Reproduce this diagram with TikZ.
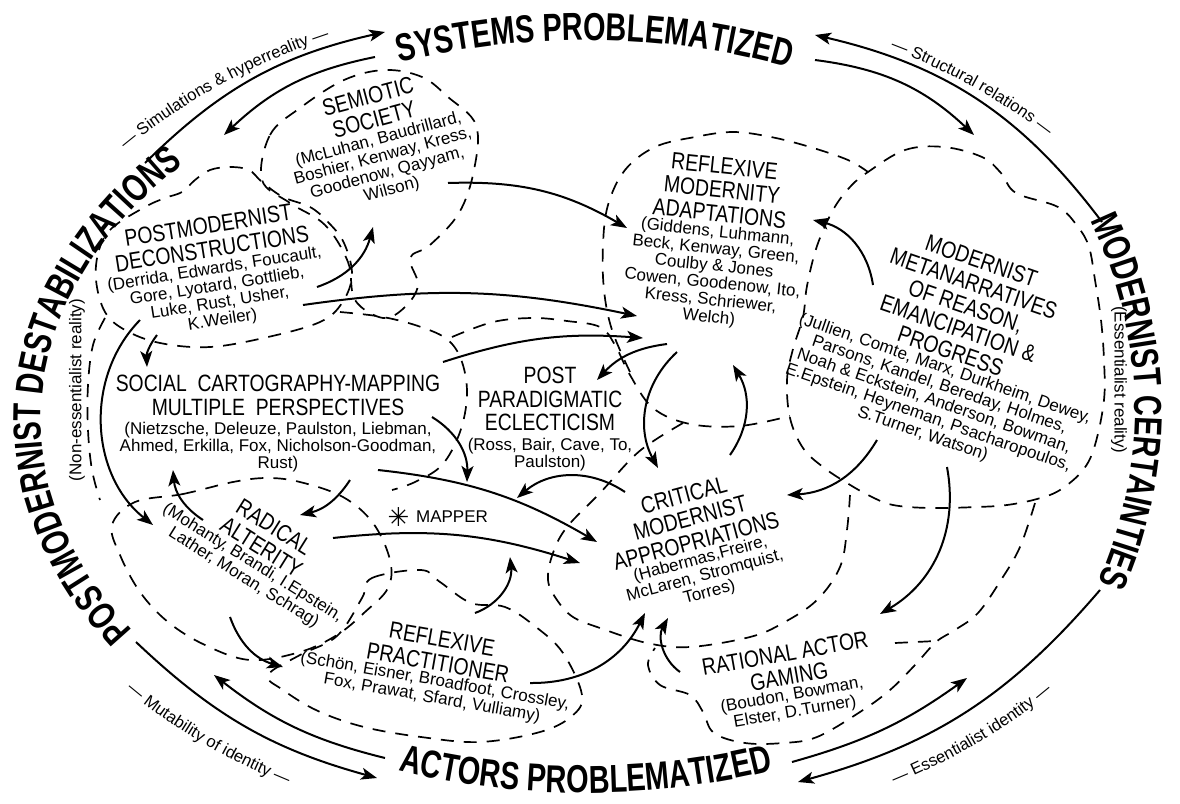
\documentclass[tikz,border=0pt]{standalone}
\usepackage{fontspec}
\setmainfont{Liberation Sans}
\newfontfamily\narrowsans[FakeStretch=0.82]{Liberation Sans}
\newfontfamily\axissans[FakeStretch=0.74]{Liberation Sans}
\newfontfamily\symbolsans{DejaVu Sans}
\usetikzlibrary{arrows.meta,positioning,decorations.text}

\newcommand\regionfont{\narrowsans\fontsize{11.8}{11.9}\selectfont}
\newcommand\namesfont{\fontsize{8.5}{8.6}\selectfont}
\newcommand\axisfont{\axissans\bfseries\fontsize{19.5}{19.5}\selectfont}
\newcommand\relfont{\fontsize{8.3}{9}\selectfont}

\tikzset{
  region/.style={font=\regionfont, align=center, inner sep=0pt},
  names/.style={font=\namesfont, align=center, inner sep=0pt},
  blob/.style={dash pattern=on 6.5pt off 5pt, line width=0.85pt},
  link/.style={-{Stealth[length=8pt,width=6pt,inset=2pt]}, line width=1pt},
  axistext/.style={decorate, decoration={text along path, text align=center, text={|\axisfont|#1}}},
  reltext/.style={decorate, decoration={text along path, text align=center, text={|\relfont|#1}}},
}

\begin{document}
\begin{tikzpicture}[x=0.5pt, y=-0.5pt]
\useasboundingbox (0,0) rectangle (1180,804);

% outer headings along the ring
\path[axistext={SYSTEMS PROBLEMATIZED}] plot[domain=236:306, samples=61, variable=\t] ({586+545*cos(\t)}, {420+380*sin(\t)});
\path[axistext={ACTORS PROBLEMATIZED}] plot[domain=55:125, samples=61, variable=\t] ({586-545*cos(\t)}, {420+373*sin(\t)});
\path[axistext={POSTMODERNIST DESTABILIZATIONS}] plot[domain=132:236, samples=81, variable=\t] ({586+545*cos(\t)}, {420+380*sin(\t)});
\path[axistext={MODERNIST CERTAINTIES}] plot[domain=-50:48, samples=81, variable=\t] ({586+549*cos(\t)}, {410+480*sin(\t)});

\path[reltext={— Simulations {\&} hyperreality —}] plot[domain=205:256, samples=41, variable=\t] ({595+608*cos(\t)}, {420+425*sin(\t)});
\path[reltext={— Structural relations —}] plot[domain=285:335, samples=41, variable=\t] ({595+608*cos(\t)}, {420+425*sin(\t)});
\path[reltext={— Mutability of identity —}] plot[domain=24:73, samples=41, variable=\t] ({590-603*cos(\t)}, {420+422*sin(\t)});
\path[reltext={— Essentialist identity —}] plot[domain=107:156, samples=41, variable=\t] ({590-603*cos(\t)}, {420+422*sin(\t)});

\node[names, rotate=90] (nonessential) at (77,390) {(Non-essentialist reality)};
\node[names, rotate=-90] (essential) at (1119,380) {(Essentialist reality)};

% dashed outlines of the domains
\draw[blob] plot[smooth cycle, tension=0.6] coordinates {(262,180) (270,135) (300,108) (344,80) (385,70) (422,77) (448,97) (476,125) (474,170) (459,213) (430,245) (410,258) (418,285) (405,307) (383,318) (355,300) (348,262) (325,225) (290,203)};
\draw[blob] plot[smooth cycle, tension=0.6] coordinates {(96,280) (99,250) (112,228) (145,207) (165,198) (182,192) (195,180) (210,170) (230,167) (249,170) (262,182) (283,197) (310,207) (328,222) (344,243) (352,275) (342,303) (320,322) (268,337) (210,347) (160,343) (125,330) (105,312)};
\draw[blob] plot[smooth, tension=0.6] coordinates {(105,318) (93,345) (88,385) (88,430) (92,470) (100,500)};
\draw[blob] plot[smooth, tension=0.6] coordinates {(340,312) (383,317) (421,327) (448,340) (462,362) (467,395) (460,432) (442,465) (415,482) (392,490)};
\draw[blob] plot[smooth, tension=0.6] coordinates {(452,337) (493,322) (533,318) (567,321) (600,327) (615,345) (630,375) (653,408) (690,424) (740,426) (790,416)};
\draw[blob] plot[smooth, tension=0.6] coordinates {(630,372) (612,330) (604,290) (603,245) (608,205) (625,170) (655,147) (695,137) (733,132) (771,137) (810,147) (848,160) (868,172)};
\draw[blob] plot[smooth cycle, tension=0.6] coordinates {(868,172) (905,150) (944,147) (982,157) (1001,173) (1016,193) (1058,207) (1078,227) (1089,247) (1095,280) (1101,320) (1104,360) (1104,400) (1095,445) (1083,470) (1060,490) (1037,499) (1007,505) (977,507) (930,508) (893,505) (870,496) (847,483) (823,467) (803,448) (790,418) (787,380) (793,349) (803,317) (807,286) (817,246) (833,210) (850,187)};
\draw[blob] plot[smooth, tension=0.6] coordinates {(683,423) (655,440) (633,457) (600,493) (567,527) (553,553) (548,580) (557,600) (573,617) (600,628) (647,643) (690,647) (750,637) (783,623) (817,600) (840,567) (847,530) (850,495)};
\draw[blob] plot[smooth, tension=0.6] coordinates {(1035,503) (1020,547) (1001,580) (978,613) (955,630) (936,642) (915,665) (890,690) (860,712) (817,737) (783,743) (745,743) (714,733) (703,712) (690,695) (660,685) (648,665) (655,648)};
\draw[blob] (895,643) -- (936,641);
\draw[blob] plot[smooth cycle, tension=0.6] coordinates {(135,502) (183,494) (233,482) (267,478) (300,482) (343,497) (373,523) (390,560) (388,588) (365,612) (337,635) (300,652) (250,660) (205,645) (168,622) (140,592) (120,555) (112,525)};
\draw[blob] plot[smooth cycle, tension=0.6] coordinates {(362,598) (372,578) (421,570) (440,582) (471,603) (505,607) (536,627) (563,653) (582,695) (572,716) (540,732) (480,742) (421,737) (364,727) (318,711) (283,690) (268,675) (300,655) (337,636)};

% domains
\node[region, rotate=15] (semT) at (371,108) {SEMIOTIC\\SOCIETY};
\node[names, rotate=15, below=2pt of semT] (semN) {(McLuhan, Baudrillard,\\Boshier, Kenway, Kress,\\Goodenow, Qayyam,\\Wilson)};

\node[region, rotate=9] (pmdT) at (210,237) {POSTMODERNIST\\DECONSTRUCTIONS};
\node[names, rotate=9, below=2pt of pmdT] (pmdN) {(Derrida, Edwards, Foucault,\\Gore, Lyotard, Gottlieb,\\Luke, Rust, Usher,\\K.Weiler)};

\node[region] (scmT) at (278,395) {SOCIAL\ \ CARTOGRAPHY-MAPPING\\MULTIPLE\ \ PERSPECTIVES};
\node[names, below=3pt of scmT] (scmN) {(Nietzsche, Deleuze, Paulston, Liebman,\\Ahmed, Erkilla, Fox, Nicholson-Goodman,\\Rust)};

\node[region] (ppeT) at (550,399) {POST\\PARADIGMATIC\\ECLECTICISM};
\node[names, below=3pt of ppeT] (ppeN) {(Ross, Bair, Cave, To,\\Paulston)};

\node[region, rotate=-6] (rmaT) at (722,190) {REFLEXIVE\\MODERNITY\\ADAPTATIONS};
\node[names, rotate=-6, below=1pt of rmaT] (rmaN) {(Giddens, Luhmann,\\Beck, Kenway, Green,\\Coulby \& Jones\\Cowen, Goodenow, Ito,\\Kress, Schriewer,\\Welch)};

\node[region, rotate=-19] (mmnT) at (966,306) {MODERNIST\\METANARRATIVES\\OF REASON,\\EMANCIPATION \&\\PROGRESS};
\node[names, rotate=-19, below=1pt of mmnT] (mmnN) {(Jullien, Comte, Marx, Durkheim, Dewey,\\Parsons, Kandel, Bereday, Holmes,\\Noah \& Eckstein, Anderson, Bowman,\\E.Epstein, Heyneman, Psacharopoulos,\\S.Turner, Watson)};

\node[region, rotate=-32] (raT) at (268,537) {RADICAL\\ALTERITY};
\node[names, rotate=-32, below=1pt of raT] (raN) {(Mohanty, Brandi, I.Epstein,\\Lather, Moran, Schrag)};

\node[region, rotate=15] (cmaT) at (690,518) {CRITICAL\\MODERNIST\\APPROPRIATIONS};
\node[names, rotate=15, below=1pt of cmaT] (cmaN) {(Habermas,Freire,\\McLaren, Stromquist,\\Torres)};

\node[region, rotate=-10] (rpT) at (440,651) {REFLEXIVE\\PRACTITIONER};
\node[names, rotate=-10, below=1pt of rpT] (rpN) {(Schön, Eisner, Broadfoot, Crossley,\\Fox, Prawat, Sfard, Vulliamy)};

\node[region, rotate=10] (ragT) at (787,665) {RATIONAL ACTOR\\GAMING};
\node[names, rotate=10, below=1pt of ragT] (ragN) {(Boudon, Bowman,\\Elster, D.Turner)};

\node[font=\namesfont, inner sep=0pt] (mapper) at (452,517) {MAPPER};
\node[font=\symbolsans\fontsize{13}{13}\selectfont, inner sep=0pt, left=3pt of mapper] (mapperStar) {✳};

% end points of the arrows
\coordinate (destabT1) at (145,163);  \coordinate (systemsL1) at (385,32);
\coordinate (systemsL2) at (375,57);  \coordinate (destabT2) at (224,135);
\coordinate (certainT1) at (1102,222); \coordinate (systemsR1) at (815,35);
\coordinate (systemsR2) at (815,60);  \coordinate (certainT2) at (974,135);
\coordinate (destabB1) at (136,642);  \coordinate (actorsL1) at (377,778);
\coordinate (actorsL2) at (385,758);  \coordinate (destabB2) at (214,675);
\coordinate (certainB1) at (1100,590); \coordinate (actorsR1) at (798,782);
\coordinate (actorsR2) at (792,762);  \coordinate (certainB2) at (967,678);

\coordinate (semOut) at (448,183);   \coordinate (rmaIn1) at (627,228);
\coordinate (pmdOut1) at (317,287);  \coordinate (semIn) at (373,227);
\coordinate (pmdOut2) at (303,305);  \coordinate (rmaIn2) at (637,316);
\coordinate (scmOut1) at (443,362);  \coordinate (rmaIn3) at (643,338);
\coordinate (rmaOut1) at (667,344);  \coordinate (ppeIn1) at (597,380);
\coordinate (rmaOut2) at (677,352);  \coordinate (cmaIn1) at (658,468);
\coordinate (cmaOut1) at (730,455);  \coordinate (rmaIn4) at (733,365);
\coordinate (mmnOut1) at (873,285);  \coordinate (rmaIn5) at (813,220);
\coordinate (mmnOut2) at (877,440);  \coordinate (cmaIn2) at (787,495);
\coordinate (mmnOut3) at (947,467);  \coordinate (ragIn1) at (880,614);
\coordinate (cmaOut2) at (625,492);  \coordinate (ppeIn2) at (517,498);
\coordinate (scmOut2) at (432,417);  \coordinate (mapperIn1) at (467,482);
\coordinate (scmOut3) at (378,470);  \coordinate (cmaIn3) at (597,542);
\coordinate (raOut1) at (333,538);   \coordinate (cmaIn4) at (580,563);
\coordinate (scmOut4) at (350,480);  \coordinate (raIn1) at (300,515);
\coordinate (raOut2) at (203,520);   \coordinate (scmIn1) at (173,470);
\coordinate (pmdOut3) at (140,320);  \coordinate (raIn2) at (153,525);
\coordinate (pmdOut4) at (157,335);  \coordinate (scmIn2) at (147,367);
\coordinate (raOut3) at (230,617);   \coordinate (rpIn1) at (283,667);
\coordinate (rpOut1) at (475,613);   \coordinate (mapperIn2) at (510,557);
\coordinate (rpOut2) at (530,683);   \coordinate (cmaIn5) at (645,613);
\coordinate (ragOut1) at (680,672);  \coordinate (cmaIn6) at (668,618);

% outer ring arrows
\draw[link] (destabT1) to[bend left=16] (systemsL1);
\draw[link] (systemsL2) to[bend right=16] (destabT2);
\draw[link] (certainT1) to[bend right=20] (systemsR1);
\draw[link] (systemsR2) to[bend left=18] (certainT2);
\draw[link] (destabB1) to[bend right=14] (actorsL1);
\draw[link] (actorsL2) to[bend left=12] (destabB2);
\draw[link] (certainB1) to[bend left=17] (actorsR1);
\draw[link] (actorsR2) to[bend right=10] (certainB2);

% arrows between domains
\draw[link] (semOut) to[bend left=16] (rmaIn1);
\draw[link] (pmdOut1) to[bend right=28] (semIn);
\draw[link] (pmdOut2) to[bend left=10] (rmaIn2);
\draw[link] (scmOut1) to[bend left=11] (rmaIn3);
\draw[link] (rmaOut1) to[bend right=20] (ppeIn1);
\draw[link] (rmaOut2) to[bend right=38] (cmaIn1);
\draw[link] (cmaOut1) to[bend right=33] (rmaIn4);
\draw[link] (mmnOut1) to[bend right=34] (rmaIn5);
\draw[link] (mmnOut2) to[bend left=28] (cmaIn2);
\draw[link] (mmnOut3) to[bend left=35] (ragIn1);
\draw[link] (cmaOut2) to[bend right=37] (ppeIn2);
\draw[link] (scmOut2) to[bend left=30] (mapperIn1);
\draw[link] (scmOut3) to[bend left=12] (cmaIn3);
\draw[link] (raOut1) to[bend left=12] (cmaIn4);
\draw[link] (scmOut4) to[bend left=22] (raIn1);
\draw[link] (raOut2) to[bend left=26] (scmIn1);
\draw[link] (pmdOut3) to[bend right=48] (raIn2);
\draw[link] (pmdOut4) to[bend right=20] (scmIn2);
\draw[link] (raOut3) to[bend right=27] (rpIn1);
\draw[link] (rpOut1) to[bend right=38] (mapperIn2);
\draw[link] (rpOut2) to[bend right=32] (cmaIn5);
\draw[link] (ragOut1) to[bend left=42] (cmaIn6);
\end{tikzpicture}
\end{document}
